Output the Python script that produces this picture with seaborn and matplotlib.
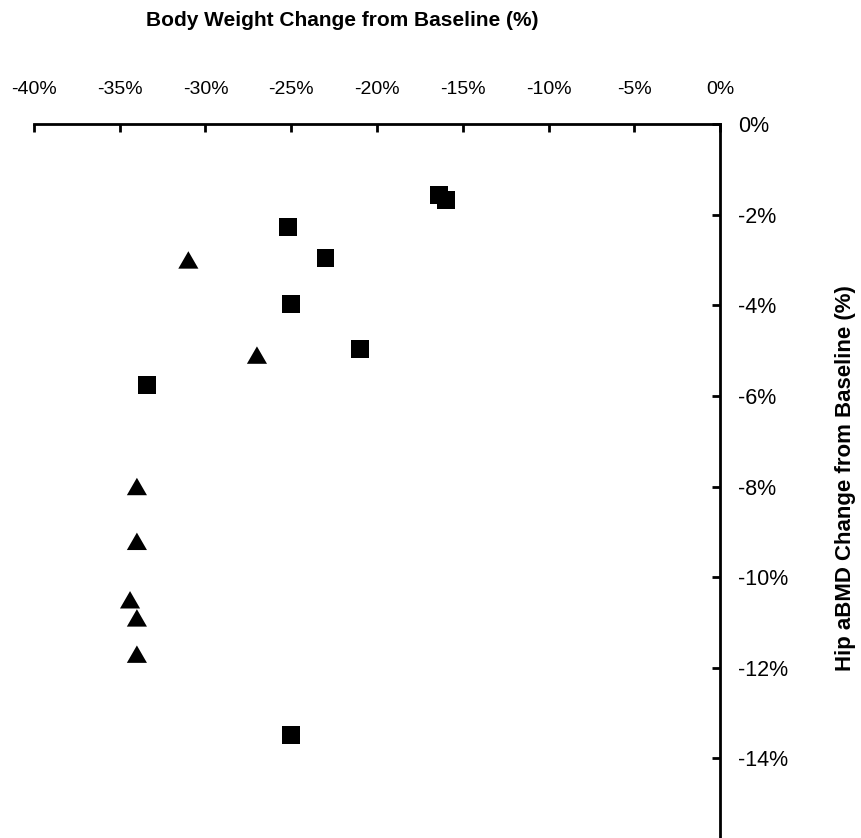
import matplotlib
matplotlib.use("Agg")
import matplotlib.pyplot as plt
import seaborn as sns
import pandas as pd
import numpy as np
from matplotlib.ticker import FuncFormatter

# Data (percent change from baseline)
square_weight = [-16.4, -16.0, -25.2, -23.0, -25.0, -21.0, -33.4, -25.0]
square_bmd = [-1.57, -1.68, -2.27, -2.96, -3.97, -4.97, -5.76, -13.49]
triangle_weight = [-31.0, -27.0, -34.0, -34.0, -34.4, -34.0, -34.0]
triangle_bmd = [-3.0, -5.1, -8.0, -9.21, -10.5, -10.9, -11.7]

x_ticks = [-40, -35, -30, -25, -20, -15, -10, -5, 0]
y_ticks = [0, -2, -4, -6, -8, -10, -12, -14]

df = pd.DataFrame({
    "weight": square_weight + triangle_weight,
    "bmd": square_bmd + triangle_bmd,
    "group": ["square"] * len(square_weight) + ["triangle"] * len(triangle_weight),
})

sns.set_theme(style="white")
plt.rcParams["font.family"] = ["Liberation Sans", "DejaVu Sans"]
plt.rcParams["text.color"] = "black"

W, H = 861, 838
fig = plt.figure(figsize=(W / 100, H / 100), dpi=100)
ax = fig.add_axes([34 / W, 1 - 849 / H, (720 - 34) / W, (849 - 124) / H])

tri = np.array([(-1.0, -0.866), (1.0, -0.866), (0.0, 0.866), (-1.0, -0.866)])
sns.scatterplot(data=df[df.group == "square"], x="weight", y="bmd", marker="s",
                s=165, color="black", edgecolor="none", ax=ax, legend=False, zorder=3)
sns.scatterplot(data=df[df.group == "triangle"], x="weight", y="bmd", marker=tri,
                s=210, color="black", edgecolor="none", ax=ax, legend=False, zorder=3)

ax.set_xlim(-40, 0)
ax.set_ylim(-16, 0)
ax.set_xticks(x_ticks)
ax.set_yticks(y_ticks)
ax.xaxis.set_major_formatter(FuncFormatter(lambda v, p: f"{int(round(v))}%"))
ax.yaxis.set_major_formatter(FuncFormatter(lambda v, p: f"{int(round(v))}%"))
ax.xaxis.tick_top()
ax.yaxis.tick_right()
for s in ["left", "bottom"]:
    ax.spines[s].set_visible(False)
for s in ["top", "right"]:
    ax.spines[s].set_visible(True)
    ax.spines[s].set_linewidth(2.0)
    ax.spines[s].set_color("black")
ax.tick_params(axis="x", which="major", direction="in", length=6, width=2.0,
               pad=19, labelsize=14, colors="black", labelcolor="black",
               top=True, bottom=False)
ax.tick_params(axis="y", which="major", direction="in", length=6, width=2.0,
               pad=13, labelsize=15.5, colors="black", labelcolor="black",
               right=True, left=False)
ax.set_xlabel("")
ax.set_ylabel("")
ax.grid(False)

fig.text(342 / W, 1 - 21 / H, "Body Weight Change from Baseline (%)",
         ha="center", va="center", fontsize=15, fontweight="bold", color="black")
fig.text(845 / W, 1 - 478 / H, "Hip aBMD Change from Baseline (%)",
         ha="center", va="center", rotation=90, fontsize=16, fontweight="bold",
         color="black")

fig.savefig("out.png", dpi=100)
